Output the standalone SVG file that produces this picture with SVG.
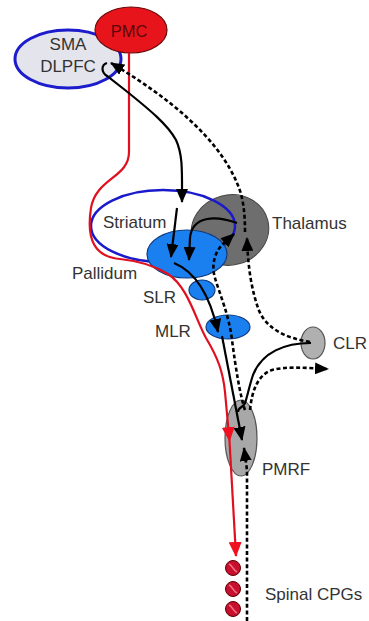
<svg xmlns="http://www.w3.org/2000/svg" width="369" height="621" viewBox="0 0 369 621">
<style>
.lbl{font-family:"Liberation Sans",Arial,sans-serif;font-size:17px;fill:#333}
.blk{fill:none;stroke:#000;stroke-width:2.2}
.dsh{fill:none;stroke:#000;stroke-width:2.6;stroke-dasharray:4 2.6}
.red{fill:none;stroke:#e01020;stroke-width:2.2}
.cpg{fill:#c8102e;stroke:#5a0000;stroke-width:1}
.stripe{stroke:#f07080;stroke-width:1.4;fill:none}
</style>
<defs>
<marker id="ah" viewBox="0 0 14 12" refX="13" refY="6" markerWidth="14" markerHeight="12" markerUnits="userSpaceOnUse" orient="auto"><path d="M0,0L14,6L0,12z" fill="#000"/></marker>
<marker id="ahr" viewBox="0 0 15 13" refX="14" refY="6.5" markerWidth="15" markerHeight="13" markerUnits="userSpaceOnUse" orient="auto"><path d="M0,0L15,6.5L0,13z" fill="#f01020"/></marker>
</defs>
<rect width="369" height="621" fill="#fff"/>
<g id="thalamus"><ellipse cx="230" cy="230" rx="39" ry="35" transform="rotate(-15 230 230)" fill="#6e6e6e" stroke="#444" stroke-width="1"/><text class="lbl" x="272" y="229">Thalamus</text></g>
<g id="striatum"><ellipse cx="163" cy="226" rx="72" ry="36" fill="none" stroke="#1a1acc" stroke-width="2.5"/><text class="lbl" x="103" y="228">Striatum</text></g>
<g id="pallidum"><ellipse cx="187" cy="254" rx="40" ry="24" fill="#1a80f0" stroke="#123c80" stroke-width="1.2"/><text class="lbl" x="72" y="279">Pallidum</text></g>
<g id="slr"><ellipse cx="202" cy="290" rx="13" ry="10" fill="#1a80f0" stroke="#123c80" stroke-width="1.2"/><text class="lbl" x="143" y="303">SLR</text></g>
<g id="mlr"><ellipse cx="228" cy="327" rx="22" ry="12" fill="#1a80f0" stroke="#123c80" stroke-width="1.2"/><text class="lbl" x="155" y="337">MLR</text></g>
<g id="clr"><ellipse cx="313" cy="343" rx="12" ry="16" fill="#b0b0b0" stroke="#555" stroke-width="1.2"/><text class="lbl" x="333" y="349">CLR</text></g>
<g id="pmrf"><ellipse cx="241" cy="438" rx="16" ry="38" fill="#a8a8a8" stroke="#555" stroke-width="1.2"/><text class="lbl" x="262" y="475">PMRF</text></g>
<g id="sma"><ellipse cx="68" cy="59" rx="53" ry="29" fill="#e4e4ec" stroke="#1c1ccc" stroke-width="3"/><text class="lbl" x="68" y="50" text-anchor="middle" font-size="19">SMA</text><text class="lbl" x="68" y="72" text-anchor="middle" font-size="19">DLPFC</text></g>
<g id="pmc"><ellipse cx="131" cy="30" rx="36" ry="23" fill="#e8141c" stroke="#6a0a0a" stroke-width="1.2"/><text x="129" y="37" text-anchor="middle" font-family="Liberation Sans,Arial,sans-serif" font-size="16.5" fill="#5a0808">PMC</text></g>
<g id="spinal-cpgs">
<circle class="cpg" cx="233" cy="568" r="7.5"/><path class="stripe" d="M229,564C233,566 233,570 237,572"/>
<circle class="cpg" cx="233" cy="589" r="7.5"/><path class="stripe" d="M229,585C233,587 233,591 237,593"/>
<circle class="cpg" cx="233" cy="609" r="7.5"/><path class="stripe" d="M229,605C233,607 233,611 237,613"/>
<text class="lbl" x="265" y="600">Spinal CPGs</text></g>
<g id="connectors">
<path class="red" d="M129,53L129,152C129,178 96,178 91,208C86,240 95,257 120,259C140,261 155,266 168,274C188,287 195,318 206,338C218,358 223,372 225,392L229.5,441" marker-end="url(#ahr)"/>
<path class="red" d="M229.5,441L236,556" marker-end="url(#ahr)"/>
<path class="blk" d="M107,63C101,65 101,72 107,76L125,90C150,110 168,125 176,140C183,155 182,172 182,202" marker-end="url(#ah)"/>
<path class="blk" d="M177,208L171,257" marker-end="url(#ah)"/>
<path class="blk" d="M237,223C215,215 192,216 190,238L189,260" marker-end="url(#ah)"/>
<path class="blk" d="M174,263C196,272 210,295 218,332" marker-end="url(#ah)"/>
<path class="blk" d="M222,336L242,440" marker-end="url(#ah)"/>
<path class="blk" d="M311,343C285,343 262,352 253,375C249,387 247,398 245,403C243,408 238,407 238,412"/>
<path class="dsh" d="M245,232C245,212 243,196 237,183C218,138 170,98 111,63" marker-end="url(#ah)"/>
<path class="dsh" d="M310,342C285,338 265,328 258,308C252,290 248,270 247,238" marker-end="url(#ah)"/>
<path class="dsh" d="M245,410C240,395 236,370 232,340C229,315 220,295 215,278C211,265 215,252 222,245L234,234" marker-end="url(#ah)"/>
<path class="dsh" d="M250,410C252,390 258,375 272,370C288,366 305,368 328,369" marker-end="url(#ah)"/>
<path class="dsh" d="M247,621L247,470L244,448" stroke-width="3" stroke-dasharray="3 2.5" marker-end="url(#ah)"/>
</g>
</svg>
